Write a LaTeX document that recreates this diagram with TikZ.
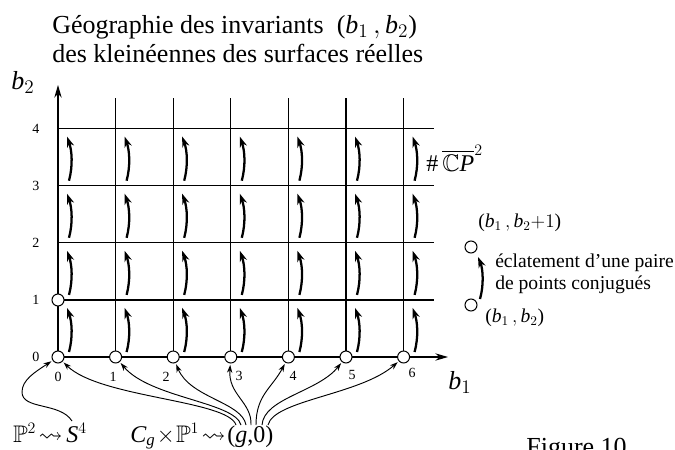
\documentclass[tikz,border=0pt]{standalone}
\usepackage{amssymb}
\usepackage{fontspec}
\setmainfont{Liberation Serif}
\usetikzlibrary{arrows.meta}
\tikzset{
  gridline/.style={line width=0.9pt},
  axisline/.style={line width=0.9pt,-{Stealth[length=9.5pt,width=5.5pt]}},
  cellarrow/.style={line width=1.7pt,-{Stealth[length=8pt,width=5.5pt]}},
  fanarrow/.style={line width=0.7pt,-{Stealth[length=6pt,width=4pt]},shorten >=1pt},
  vtx/.style={circle,draw,fill=white,line width=0.75pt,minimum size=9pt,inner sep=0pt},
  ttl/.style={font=\fontsize{19.5}{22}\selectfont,inner sep=0pt},
  figcap/.style={font=\fontsize{19.5}{22}\selectfont,inner sep=0pt},
  lgd/.style={font=\fontsize{14.7}{16}\selectfont,inner sep=0pt},
  num/.style={font=\fontsize{10.5}{12}\selectfont,inner sep=0pt},
  axlbl/.style={font=\fontsize{19.5}{23}\selectfont,inner sep=0pt},
  btm/.style={font=\fontsize{18}{20}\selectfont,inner sep=0pt}
}
\begin{document}
\begin{tikzpicture}[x=0.75pt,y=-0.75pt]
\useasboundingbox (0,0) rectangle (675,450);
\clip (0,0) rectangle (675,450);
% title
\node[ttl,anchor=base west] (t1) at (52,33) {Géographie des invariants\ \ ($\mathit{b}_1\,,\mathit{b}_2$)};
\node[ttl,anchor=base west] (t2) at (52,62) {des kleinéennes des surfaces réelles};
% grid
\foreach \i in {1,...,6} \draw[gridline] (58+57.6*\i,357) -- (58+57.6*\i,98);
\foreach \j in {1,...,4} \draw[gridline] (58,357-57.1*\j) -- (434,357-57.1*\j);
\draw[axisline] (58,357) -- (448,357);
\draw[axisline] (58,357) -- (58,85);
% axis labels
\node[axlbl,anchor=base west] (lb2) at (11,89) {$\mathit{b}_2$};
\node[axlbl,anchor=base west] (lb1) at (448,389) {$\mathit{b}_1$};
\foreach \j in {0,...,4} \node[num] (n\j) at (36,357-57.1*\j) {\j};
\node[num] (m0) at (58,377) {0};
\node[num] (m1) at (113,377) {1};
\node[num] (m2) at (166,377) {2};
\node[num] (m3) at (239,376) {3};
\node[num] (m4) at (293,376) {4};
\node[num] (m5) at (352,375) {5};
\node[num] (m6) at (412,373) {6};
% cell arrows
\foreach \i in {0,...,6} \foreach \j in {0,...,3} {
  \pgfmathsetmacro\xa{58+57.6*\i}
  \pgfmathsetmacro\ya{357-57.1*\j}
  \pgfmathsetmacro\yb{357-57.1*(\j+1)}
  \draw[cellarrow] (\xa+11,\ya-5) .. controls (\xa+15,\ya-20) and (\xa+14,\yb+22) .. (\xa+9,\yb+8);
}
% points
\foreach \i in {0,...,6} \node[vtx] (c\i) at (58+57.6*\i,357) {};
\node[vtx] (c01) at (58,300) {};
% label #CP2
\node[btm,anchor=base west] (cp) at (426,171) {\#\,$\overline{\mathbb{C}\mathit{P}}^2$};
% legend
\node[vtx] (la) at (471,247) {};
\node[vtx] (lb) at (471,305) {};
\draw[cellarrow] (480,299) .. controls (484,285) and (483,269) .. (478,257);
\node[lgd,anchor=west] (lt1) at (478,223) {($\mathit{b}_1\,,\mathit{b}_2{+}1$)};
\node[lgd,anchor=west] (lt2) at (495,263) {éclatement d'une paire};
\node[lgd,anchor=west] (lt3) at (495,285) {de points conjugués};
\node[lgd,anchor=west] (lt4) at (485,318) {($\mathit{b}_1\,,\mathit{b}_2$)};
% bottom labels
\node[btm,anchor=base east] (p2) at (63,442) {$\mathbb{P}^2\!\rightsquigarrow$};
\node[btm,anchor=base west] (s4) at (66,442) {$\mathit{S}^4$};
\node[btm,anchor=base east] (cg) at (226,442) {$\mathit{C}_{\mathit{g}}\!\times\!\mathbb{P}^1\!\rightsquigarrow$};
\node[btm,anchor=base west] (g0) at (227,442) {($\mathit{g}$,0)};
% fan starts
\coordinate (f0) at (236,425);
\coordinate (f1) at (241,425);
\coordinate (f2) at (246,425);
\coordinate (f3) at (251,425);
\coordinate (f4) at (256,425);
\coordinate (f5) at (262,425);
\coordinate (f6) at (268,425);
\coordinate (fs) at (72,421);
\draw[fanarrow] (fs) .. controls (60,402) and (22,410) .. (22,392) .. controls (22,380) and (35,372) .. (c0);
\draw[fanarrow] (f0) .. controls (228,400) and (100,398) .. (c0);
\draw[fanarrow] (f1) .. controls (235,402) and (150,398) .. (c1);
\draw[fanarrow] (f2) .. controls (242,402) and (190,398) .. (c2);
\draw[fanarrow] (f3) .. controls (252,402) and (228,395) .. (c3);
\draw[fanarrow] (f4) .. controls (256,395) and (272,388) .. (c4);
\draw[fanarrow] (f5) .. controls (264,398) and (318,392) .. (c5);
\draw[fanarrow] (f6) .. controls (274,400) and (360,395) .. (c6);
% figure caption (cut at the bottom edge, as in the reference)
\node[figcap,anchor=base east] (fig) at (627,455) {Figure 10};
\end{tikzpicture}
\end{document}
